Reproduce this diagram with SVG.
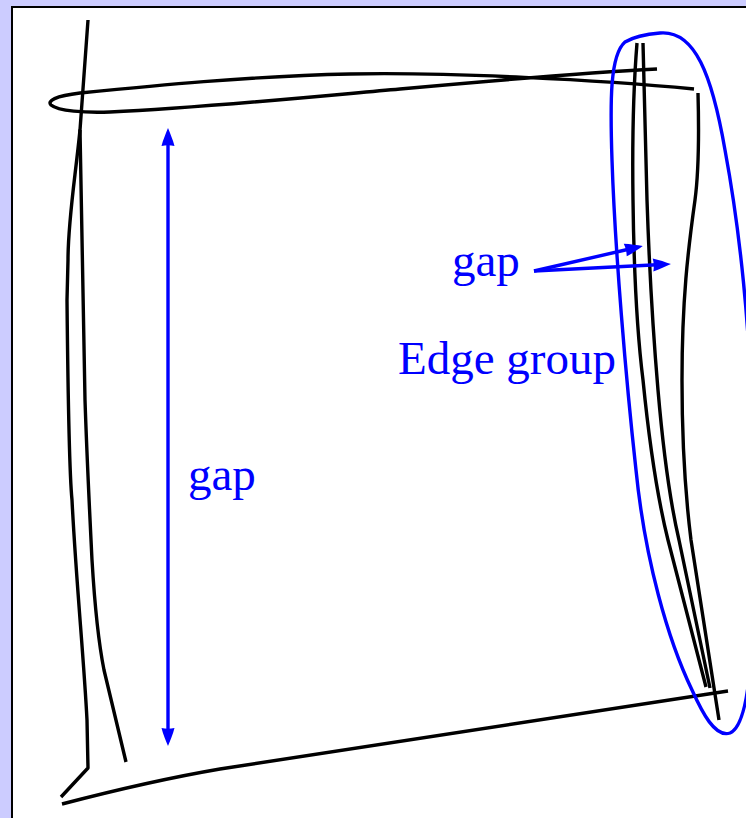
<svg xmlns="http://www.w3.org/2000/svg" width="746" height="818" viewBox="0 0 746 818">
  <style>
    .ink { fill: none; stroke: #000; stroke-width: 3.4; stroke-linecap: butt; stroke-linejoin: round; }
    .blue { fill: none; stroke: #0000ff; stroke-width: 3.4; }
    .lbl { font-family: "Liberation Serif", "DejaVu Serif", serif; font-size: 47px; fill: #0000ff; }
  </style>
  <defs>
    <marker id="head" viewBox="-10 -8 20 16" markerWidth="20" markerHeight="16" refX="0" refY="0" orient="auto-start-reverse" markerUnits="userSpaceOnUse">
      <path d="M9,0 C4,-2 -3,-5 -9,-6.5 C-8,-2 -8,2 -9,6.5 C-3,5 4,2 9,0 Z" fill="#0000ff"/>
    </marker>
  </defs>
  <rect x="0" y="0" width="746" height="818" fill="#ccccff"/>
  <rect id="frame" x="12" y="7" width="800" height="900" fill="#fff" stroke="#000" stroke-width="2"/>

  <g id="left-strokes">
    <path class="ink" d="M88,20 L80,130 C75,180 68,220 68,260 L67,300 C68,400 69,470 72,500 C76,580 84,660 87,720 L88,768 L61,797"/>
    <path class="ink" d="M80,130 C81,200 84,300 85,400 C87,460 90,520 92,560 C95,610 98,640 104,670 L126,762"/>
  </g>

  <g id="top-stroke">
    <path class="ink" d="M694,89 C600,80 450,72 350,74 C250,76 150,86 80,93 C55,96 47,101 51,105 C58,111 85,113 110,112 C200,108 300,98 400,89 C500,80 600,72 657,69"/>
  </g>

  <g id="bottom-stroke">
    <path class="ink" d="M62,804 Q150,781 220,769 L728,691"/>
  </g>

  <g id="right-strokes">
    <path class="ink" d="M637,43 C634,80 632,130 633,200 C634,280 638,340 643,380 C650,450 658,500 668,540 L706,687"/>
    <path class="ink" d="M643,43 L647,200 C649,260 652,320 658,390 C664,460 672,510 679,540 L710,688"/>
    <path class="ink" d="M698,93 C699,130 699,170 695,200 C688,250 682,300 682,380 C682,450 686,500 691,540 L719,720"/>
  </g>

  <g id="edge-group">
    <path class="blue" d="M660,33 C695,30 712,75 725,150 C738,220 752,330 752,450 C752,560 760,720 730,733 C715,738 702,712 692,690 C668,640 645,560 636,470 C626,380 615,250 612,160 C610,100 610,55 625,42 C635,36 648,34 660,33 Z"/>
    <text class="lbl" x="398" y="374">Edge group</text>
  </g>

  <g id="connectors">
    <line class="blue" x1="168" y1="137" x2="168" y2="737" marker-start="url(#head)" marker-end="url(#head)"/>
    <line class="blue" x1="534" y1="271" x2="634" y2="248" marker-end="url(#head)"/>
    <line class="blue" x1="534" y1="271" x2="662" y2="264.5" marker-end="url(#head)"/>
  </g>

  <g id="labels">
    <text class="lbl" x="188" y="490">gap</text>
    <text class="lbl" x="452" y="276">gap</text>
  </g>
</svg>
